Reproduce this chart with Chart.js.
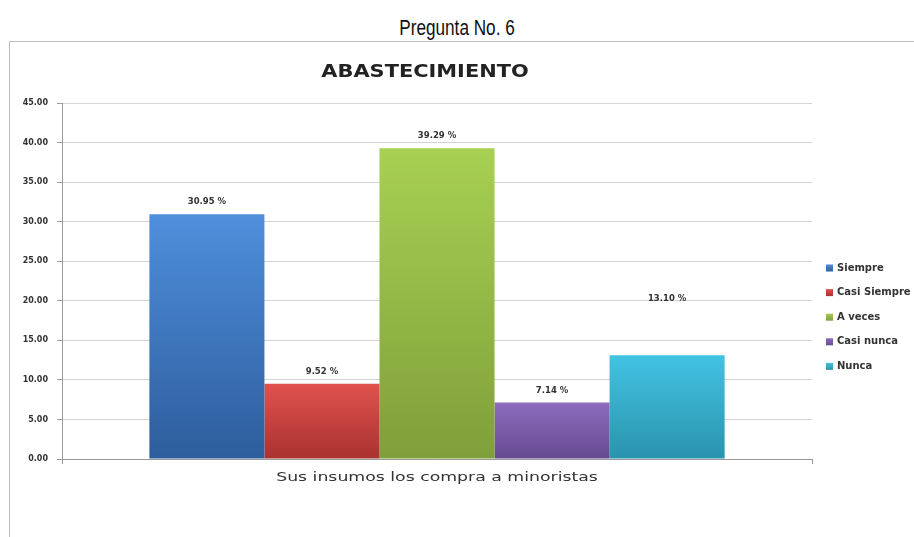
<!DOCTYPE html>
<html>
<head>
<meta charset="utf-8">
<script src="https://cdn.jsdelivr.net/npm/chart.js@4/dist/chart.umd.min.js"></script>
<style>
  html, body { margin: 0; padding: 0; background: #fff; width: 914px; height: 537px; overflow: hidden; }
  #page-title { position: absolute; left: 0; width: 914px; top: 15px; text-align: center;
    font-family: "Liberation Sans", sans-serif; font-size: 22px; color: #111;
    transform: scaleX(0.78); transform-origin: 457px 0; }
  #box { position: absolute; left: 9px; top: 41px; width: 920px; height: 510px;
    border-left: 1px solid #bdbdbd; border-top: 1px solid #bdbdbd; }
  #wrap { position: absolute; left: 10px; top: 42px; width: 904px; height: 495px; }
</style>
</head>
<body>
<div id="page-title">Pregunta No. 6</div>
<div id="box"></div>
<div id="wrap"><canvas id="c" width="904" height="495"></canvas></div>
<script>
const chartTitle = 'ABASTECIMIENTO';
const categories = ['Sus insumos los compra a minoristas'];
const seriesNames = ['Siempre', 'Casi Siempre', 'A veces', 'Casi nunca', 'Nunca'];
const seriesValues = [30.95, 9.52, 39.29, 7.14, 13.10];
const yTicks = [0, 5, 10, 15, 20, 25, 30, 35, 40, 45];

const lightColors = ['#4f8fdc', '#e0524d', '#a8d052', '#8d6cc0', '#42c3e2'];
const darkColors  = ['#2d5d9c', '#a93230', '#7f9f3a', '#654a8e', '#2a93ad'];
const labelLift = [12, 12, 12, 12, 57];

function barGradient(i) {
  return function (ctx) {
    const chart = ctx.chart;
    const ys = chart.scales.y;
    if (!chart.chartArea || !ys) return lightColors[i];
    const top = ys.getPixelForValue(seriesValues[i]);
    const bottom = ys.getPixelForValue(0);
    const g = chart.ctx.createLinearGradient(0, top, 0, bottom);
    g.addColorStop(0, lightColors[i]);
    g.addColorStop(1, darkColors[i]);
    return g;
  };
}

const datasets = seriesNames.map((name, i) => ({
  label: name,
  data: [seriesValues[i]],
  backgroundColor: barGradient(i),
  borderWidth: 0,
  categoryPercentage: 0.767,
  barPercentage: 1.0
}));

function stretchedText(ctx, text, x, y, sx) {
  ctx.save();
  ctx.translate(x, y);
  ctx.scale(sx, 1);
  ctx.fillText(text, 0, 0);
  ctx.restore();
}

const extras = {
  id: 'extras',
  afterDatasetsDraw(chart) {
    const ctx = chart.ctx;
    ctx.save();
    // value labels
    ctx.font = 'bold 8.5px "DejaVu Sans", sans-serif';
    ctx.fillStyle = '#333';
    ctx.textAlign = 'center';
    ctx.textBaseline = 'middle';
    chart.data.datasets.forEach((ds, i) => {
      const el = chart.getDatasetMeta(i).data[0];
      ctx.fillText(seriesValues[i].toFixed(2) + ' %', el.x, el.y - labelLift[i]);
    });
    // title
    ctx.font = 'bold 17px "DejaVu Sans", sans-serif';
    ctx.fillStyle = '#222';
    stretchedText(ctx, chartTitle, 415, 31, 1.23);
    // category label
    const xs = chart.scales.x;
    ctx.font = '13px "DejaVu Sans", sans-serif';
    ctx.fillStyle = '#333';
    categories.forEach((c, k) => stretchedText(ctx, c, xs.getPixelForTick(k), 436, 1.33));
    // legend
    ctx.textAlign = 'left';
    ctx.font = 'bold 10px "DejaVu Sans", sans-serif';
    chart.data.datasets.forEach((ds, i) => {
      const y = 226 + i * 24.6;
      const g = ctx.createLinearGradient(0, y - 4, 0, y + 4);
      g.addColorStop(0, lightColors[i]);
      g.addColorStop(1, darkColors[i]);
      ctx.fillStyle = g;
      ctx.fillRect(816, y - 3.5, 7, 7);
      ctx.fillStyle = '#333';
      ctx.fillText(ds.label, 827, y);
    });
    ctx.restore();
  }
};

new Chart(document.getElementById('c'), {
  type: 'bar',
  data: { labels: categories, datasets },
  options: {
    responsive: false,
    animation: false,
    layout: { padding: { top: 61, right: 102, bottom: 38, left: 0 } },
    plugins: { legend: { display: false }, title: { display: false }, tooltip: { enabled: false } },
    scales: {
      x: {
        grid: { display: true, drawOnChartArea: false, drawTicks: true, tickLength: 5, color: '#999', offset: true },
        border: { display: true, color: '#999' },
        ticks: { display: false },
        afterFit(s) { s.height = 40; }
      },
      y: {
        min: 0, max: 45,
        afterBuildTicks(s) { s.ticks = yTicks.map(v => ({ value: v })); },
        grid: { color: '#d4d4d4', tickColor: '#999', tickLength: 5, drawTicks: true },
        border: { display: true, color: '#999' },
        ticks: { padding: 9, color: '#333', font: { family: '"DejaVu Sans", sans-serif', size: 8, weight: 'bold' },
          callback: v => Number(v).toFixed(2) },
        afterFit(s) { s.width = 52; }
      }
    }
  },
  plugins: [extras]
});
</script>
</body>
</html>
